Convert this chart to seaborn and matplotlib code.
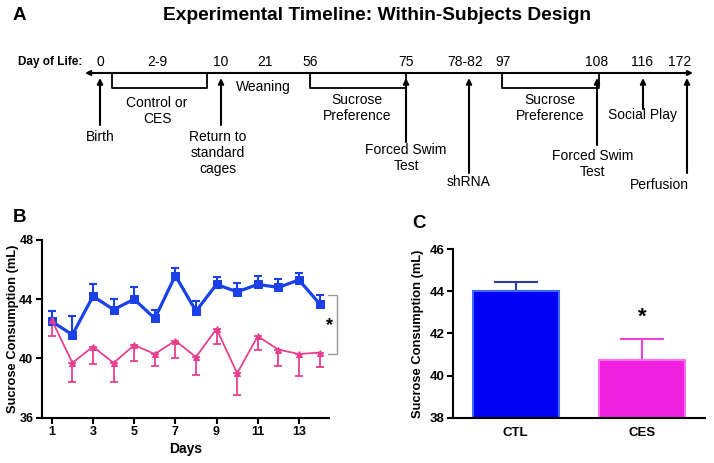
import numpy as np
import pandas as pd
import matplotlib
matplotlib.use("Agg")
import matplotlib.pyplot as plt
import seaborn as sns

# ---- panel B data: daily sucrose consumption ----
days = list(range(1, 15))
ctl_mean = [42.5, 41.6, 44.2, 43.3, 44.0, 42.7, 45.6, 43.2, 45.0, 44.5, 45.0, 44.8, 45.3, 43.7]
ctl_sem = [0.7, 1.3, 0.8, 0.7, 0.8, 0.6, 0.5, 0.7, 0.5, 0.6, 0.6, 0.6, 0.5, 0.6]
ces_mean = [42.6, 39.7, 40.8, 39.7, 40.9, 40.3, 41.2, 40.1, 42.0, 39.0, 41.5, 40.6, 40.3, 40.4]
ces_sem = [1.1, 1.3, 1.2, 1.3, 1.1, 0.8, 1.2, 1.2, 1.0, 1.5, 0.9, 1.1, 1.5, 1.0]

# ---- panel C data: average consumption ----
groups = ["CTL", "CES"]
group_mean = [44.0, 40.72]
group_sem = [0.42, 1.0]

# ---- panel A timeline (positions in figure pixels) ----
tl_ticks = ["0", "2-9", "10", "21", "56", "75", "78-82", "97", "108", "116", "172"]
tl_tick_x = [100, 157, 221, 265, 310, 406, 465, 503, 597, 642, 680]
tl_brackets = [(112, 207), (310, 406), (502, 599)]
tl_arrow_x = [100, 221, 406, 469, 597, 643, 687]
tl_arrow_bottom = [125, 125, 142, 173, 145, 109, 173]
tl_labels = ["Birth", "Control or\nCES", "Return to\nstandard\ncages", "Weaning",
             "Sucrose\nPreference", "Forced Swim\nTest", "shRNA",
             "Sucrose\nPreference", "Forced Swim\nTest", "Social Play", "Perfusion"]
tl_label_x = [100, 157, 218, 263, 357, 406, 469, 550, 593, 643, 659]
tl_label_y = [137, 111, 153, 87, 108, 158, 182, 108, 164, 115, 185]

blue = "#1a40e8"
pink = "#e8408f"

sns.set_style("ticks")
plt.rcParams["font.family"] = ["Liberation Sans", "DejaVu Sans"]
for k in ["text.color", "axes.labelcolor", "xtick.color", "ytick.color", "axes.edgecolor"]:
    plt.rcParams[k] = "black"

fig = plt.figure(figsize=(7.14, 4.63), dpi=100)

# ------------- A: timeline -------------
axA = fig.add_axes([0, 0, 1, 1])
axA.set_xlim(0, 714)
axA.set_ylim(463, 0)
axA.axis("off")
axA.text(13, 16, "A", fontsize=13.5, fontweight="bold", ha="left", va="center")
axA.text(377, 16, "Experimental Timeline: Within-Subjects Design", fontsize=13.8,
         fontweight="bold", ha="center", va="center")
axA.text(82, 62, "Day of Life:", fontsize=8.5, fontweight="bold", ha="right", va="center")
for lab, x in zip(tl_ticks, tl_tick_x):
    axA.text(x, 62, lab, fontsize=10, ha="center", va="center")
axA.annotate("", xy=(85, 73), xytext=(693, 73),
             arrowprops=dict(arrowstyle="<|-|>", lw=1.5, color="k", mutation_scale=7,
                             shrinkA=0, shrinkB=0))
for x1, x2 in tl_brackets:
    axA.plot([x1, x1, x2, x2], [73, 88, 88, 73], color="k", lw=1.3)
for x, yb in zip(tl_arrow_x, tl_arrow_bottom):
    axA.annotate("", xy=(x, 78), xytext=(x, yb),
                 arrowprops=dict(arrowstyle="-|>", lw=1.5, color="k", mutation_scale=8,
                                 shrinkA=0, shrinkB=0))
for lab, x, y in zip(tl_labels, tl_label_x, tl_label_y):
    axA.text(x, y, lab, fontsize=10, ha="center", va="center", linespacing=1.15)
axA.text(13, 218, "B", fontsize=13.5, fontweight="bold", ha="left", va="center")
axA.text(412, 223, "C", fontsize=13.5, fontweight="bold", ha="left", va="center")

# ------------- B: daily line plot -------------
axB = fig.add_axes([41.7 / 714, 45.3 / 463, 287.3 / 714, 177.7 / 463])
dfc = pd.DataFrame({"day": days, "val": ctl_mean})
dfe = pd.DataFrame({"day": days, "val": ces_mean})
axB.errorbar(days, ctl_mean, yerr=[np.zeros(14), ctl_sem], fmt="none", ecolor=blue,
             elinewidth=1.5, capsize=2.8, capthick=1.5, zorder=2)
axB.errorbar(days, ces_mean, yerr=[ces_sem, np.zeros(14)], fmt="none", ecolor=pink,
             elinewidth=1.3, capsize=2.8, capthick=1.3, zorder=2)
sns.lineplot(data=dfc, x="day", y="val", ax=axB, color=blue, lw=2.3, marker="s",
             markersize=6, markeredgecolor=blue, zorder=3)
sns.lineplot(data=dfe, x="day", y="val", ax=axB, color=pink, lw=1.3, marker="^",
             markersize=4.5, markeredgecolor=pink, zorder=3)
axB.set_xlim(0.51, 14.46)
axB.set_ylim(36, 48)
axB.set_xticks([1, 3, 5, 7, 9, 11, 13])
axB.set_yticks([36, 40, 44, 48])
axB.set_xlabel("Days", fontsize=10, fontweight="bold", labelpad=3)
axB.set_ylabel("Sucrose Consumption (mL)", fontsize=9.3, fontweight="bold")
axB.yaxis.set_label_coords(-0.079, 0.5)
sns.despine(ax=axB)
for s in ["left", "bottom"]:
    axB.spines[s].set_linewidth(1.5)
axB.tick_params(width=1.5, length=4, labelsize=9, pad=2)
for t in axB.get_xticklabels() + axB.get_yticklabels():
    t.set_fontweight("bold")
axB.plot([14.42, 14.83, 14.83, 14.42], [44.3, 44.3, 40.3, 40.3], color="#999999",
         lw=1, clip_on=False)
axB.text(14.5, 42.2, "*", fontsize=13, fontweight="bold", ha="center", va="center",
         clip_on=False)

# ------------- C: bar plot -------------
axC = fig.add_axes([452.7 / 714, 45.3 / 463, 252.3 / 714, 168.7 / 463])
sns.barplot(x=groups, y=group_mean, hue=groups, palette=["#0000f5", "#f020e0"],
            saturation=1, legend=False, width=0.68, errorbar=None, ax=axC, zorder=2)
edge_cols = ["#3a6cff", "#ff70f0"]
for patch, ec in zip(axC.patches, edge_cols):
    patch.set_edgecolor(ec)
    patch.set_linewidth(1.5)
err_cols = ["#2a3aa8", "#f040e0"]
for i in range(2):
    axC.errorbar(i, group_mean[i], yerr=[[0], [group_sem[i]]], fmt="none",
                 ecolor=err_cols[i], elinewidth=1.5, capsize=15.5, capthick=1.5, zorder=1)
axC.set_xlim(-0.5, 1.5)
axC.set_ylim(38, 46)
axC.set_yticks([38, 40, 42, 44, 46])
axC.set_ylabel("Sucrose Consumption (mL)", fontsize=9.3, fontweight="bold")
axC.yaxis.set_label_coords(-0.115, 0.5)
sns.despine(ax=axC)
for s in ["left", "bottom"]:
    axC.spines[s].set_linewidth(1.5)
axC.tick_params(axis="y", width=1.5, length=4, labelsize=9.5, pad=2)
axC.tick_params(axis="x", length=0, labelsize=9.5, pad=7)
for t in axC.get_xticklabels() + axC.get_yticklabels():
    t.set_fontweight("bold")
axC.text(1, 42.75, "*", fontsize=16, fontweight="bold", ha="center", va="center")

fig.savefig("out.png", dpi=100)
